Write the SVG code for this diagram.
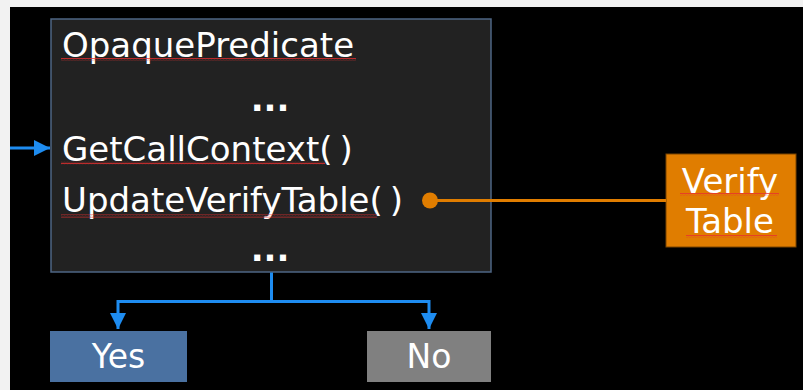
<svg xmlns="http://www.w3.org/2000/svg" width="803" height="390" viewBox="0 0 803 390">
<defs>
<style>
.t{font-family:"DejaVu Sans","Verdana",sans-serif;fill:#ffffff;}
.big{font-size:34px;}
.dots{font-size:34px;font-weight:bold;}
.blue{stroke:#1e8cf0;stroke-width:3;fill:none;}
.sq{fill:url(#wave);}
</style>
<pattern id="wave" x="0" y="0" width="3" height="3" patternUnits="userSpaceOnUse">
<path d="M0,2.2 L0.75,0.8 L1.5,2.2 L2.25,0.8 L3,2.2" stroke="#e83030" stroke-width="0.8" fill="none"/>
</pattern>
<marker id="ah" viewBox="0 0 10 10" refX="10" refY="5" markerWidth="16" markerHeight="16" markerUnits="userSpaceOnUse" orient="auto">
<path d="M0,0 L10,5 L0,10 z" fill="#1e8cf0"/>
</marker>
</defs>
<rect x="0" y="0" width="803" height="390" fill="#f2f2f2"/>
<rect x="10" y="7" width="793" height="383" fill="#000000"/>

<g id="main">
<rect x="51" y="19" width="440" height="253" fill="#222222" stroke="#4e6684" stroke-width="1.5"/>
<text class="t big" x="62" y="57">OpaquePredicate</text>
<text class="t dots" x="270" y="111" text-anchor="middle">...</text>
<text class="t big" x="62" y="161">GetCallContext(<tspan dx="7">)</tspan></text>
<text class="t big" x="62" y="212">UpdateVerifyTable(<tspan dx="7">)</tspan></text>
<text class="t dots" x="270" y="261" text-anchor="middle">...</text>
<rect class="sq" x="61" y="58" width="295" height="3"/>
<rect class="sq" x="61" y="161.5" width="264" height="3"/>
<rect class="sq" x="61" y="214.5" width="316" height="3"/>
</g>

<g id="verify">
<rect x="666" y="154" width="130" height="93" fill="#e07d00" stroke="#7a4400" stroke-width="1"/>
<text class="t big" x="730" y="193" text-anchor="middle">Verify</text>
<text class="t big" x="730" y="233" text-anchor="middle">Table</text>
<rect class="sq" x="680" y="193" width="99" height="3"/>
<rect class="sq" x="686" y="235" width="91" height="3"/>
</g>

<g id="yes">
<rect x="50" y="331" width="137" height="51" fill="#4a71a1"/>
<text class="t" x="118.5" y="368" text-anchor="middle" font-size="33">Yes</text>
</g>

<g id="no">
<rect x="367" y="331" width="124" height="51" fill="#808080"/>
<text class="t" x="429" y="368" text-anchor="middle" font-size="33">No</text>
</g>

<g id="connectors">
<line class="blue" x1="10" y1="148" x2="50" y2="148" marker-end="url(#ah)"/>
<path class="blue" d="M271.5,272.5 V301.5 M118,301.5 H429"/>
<path class="blue" d="M118,300 V329" marker-end="url(#ah)"/>
<path class="blue" d="M429,300 V329" marker-end="url(#ah)"/>
<line x1="430" y1="200.5" x2="666" y2="200.5" stroke="#e07d00" stroke-width="3"/>
<circle cx="430" cy="200.5" r="8" fill="#e07d00"/>
</g>
</svg>
